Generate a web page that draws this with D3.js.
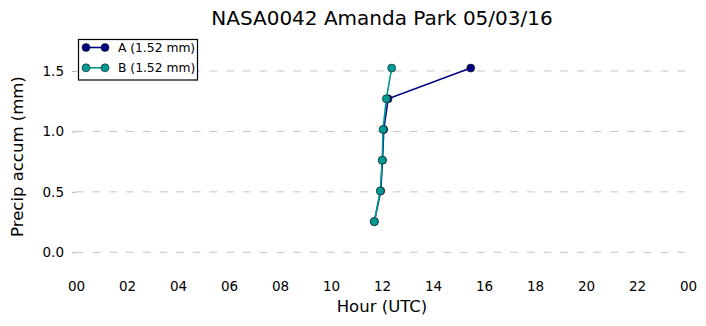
<!DOCTYPE html>
<html><head><meta charset="utf-8">
<script src="https://cdn.jsdelivr.net/npm/d3@7"></script>
<style>
body{margin:0;background:#fff;}
text{font-family:"DejaVu Sans",sans-serif;}
</style></head>
<body>
<svg id="chart" width="706" height="326"></svg>
<script>
const title = "NASA0042 Amanda Park 05/03/16";
const xLabel = "Hour (UTC)";
const yLabel = "Precip accum (mm)";
const xTickHours = [0,2,4,6,8,10,12,14,16,18,20,22,24];
const xTickLabels = ["00","02","04","06","08","10","12","14","16","18","20","22","00"];
const yTicks = [0,0.5,1.0,1.5];
const seriesNames = ["A (1.52 mm)","B (1.52 mm)"];
const seriesColors = ["#000080","#009a94"];
const aHours = [11.70, 11.95, 12.02, 12.07, 12.24, 15.48];
const aValues = [0.254, 0.508, 0.762, 1.016, 1.27, 1.524];
const bHours = [11.70, 11.93, 12.01, 12.04, 12.17, 12.38];
const bValues = [0.254, 0.508, 0.762, 1.016, 1.27, 1.524];

const svg = d3.select("#chart");
const L=76, R=688, T=34.7, B=276.5;
const x = d3.scaleLinear().domain([0,24]).range([L,R]);
const y = d3.scaleLinear().domain([-0.2,1.8]).range([B,T]);

// gridlines
const g = svg.append("g");
g.selectAll("line.grid").data(yTicks).enter().append("line")
  .attr("x1",L).attr("x2",R+2).attr("y1",d=>y(d)).attr("y2",d=>y(d))
  .attr("stroke","#c4c4c4").attr("stroke-width",1).attr("stroke-dasharray","7.7,9");

// y axis
const yAxis = d3.axisLeft(y).tickValues(yTicks).tickFormat(d3.format(".1f")).tickSize(4).tickPadding(8);
const ya = svg.append("g").attr("transform",`translate(${L},0)`).call(yAxis);
ya.select(".domain").remove();
ya.selectAll(".tick line").attr("stroke","#b0b0b0");
ya.selectAll(".tick text").attr("font-size","13.5px").attr("fill","#000").style("font-family","DejaVu Sans");

// x axis
const xAxis = d3.axisBottom(x).tickValues(xTickHours).tickFormat((d,i)=>xTickLabels[i]).tickSize(0).tickPadding(8);
const xa = svg.append("g").attr("transform",`translate(0,${B-3})`).call(xAxis);
xa.select(".domain").remove();
xa.selectAll(".tick text").attr("font-size","13.5px").attr("fill","#000").style("font-family","DejaVu Sans");

// lines
const series = [
  {name:seriesNames[0], color:seriesColors[0], pts:aHours.map((h,i)=>[h,aValues[i]])},
  {name:seriesNames[1], color:seriesColors[1], pts:bHours.map((h,i)=>[h,bValues[i]])}
];
const line = d3.line().x(d=>x(d[0])).y(d=>y(d[1]));
series.forEach(s=>{
  svg.append("path").datum(s.pts).attr("d",line).attr("fill","none")
    .attr("stroke",s.color).attr("stroke-width",1.6);
  svg.selectAll(null).data(s.pts).enter().append("circle")
    .attr("cx",d=>x(d[0])).attr("cy",d=>y(d[1])).attr("r",4)
    .attr("fill",s.color).attr("stroke","#1a1a1a").attr("stroke-width",0.6);
});

// legend
const lg = svg.append("g");
lg.append("rect").attr("x",78.5).attr("y",39.5).attr("width",119).attr("height",40.5)
  .attr("fill","#fff").attr("stroke","#000").attr("stroke-width",1.2);
series.forEach((s,i)=>{
  const yy = 47.5 + i*20.3;
  lg.append("line").attr("x1",86).attr("x2",105).attr("y1",yy).attr("y2",yy)
    .attr("stroke",s.color).attr("stroke-width",1.6);
  [86,105].forEach(cx=>lg.append("circle").attr("cx",cx).attr("cy",yy).attr("r",4)
    .attr("fill",s.color).attr("stroke","#1a1a1a").attr("stroke-width",0.6));
  lg.append("text").attr("x",118).attr("y",yy+4.3).attr("font-size","12.3px").text(s.name);
});

// title and labels
svg.append("text").attr("x",(L+R)/2).attr("y",25).attr("text-anchor","middle")
  .attr("font-size","20px").text(title);
svg.append("text").attr("x",(L+R)/2).attr("y",312).attr("text-anchor","middle")
  .attr("font-size","16.5px").text(xLabel);
svg.append("text").attr("transform",`translate(23,${(T+B)/2+1}) rotate(-90)`).attr("text-anchor","middle")
  .attr("font-size","16.5px").text(yLabel);
</script>
</body></html>
